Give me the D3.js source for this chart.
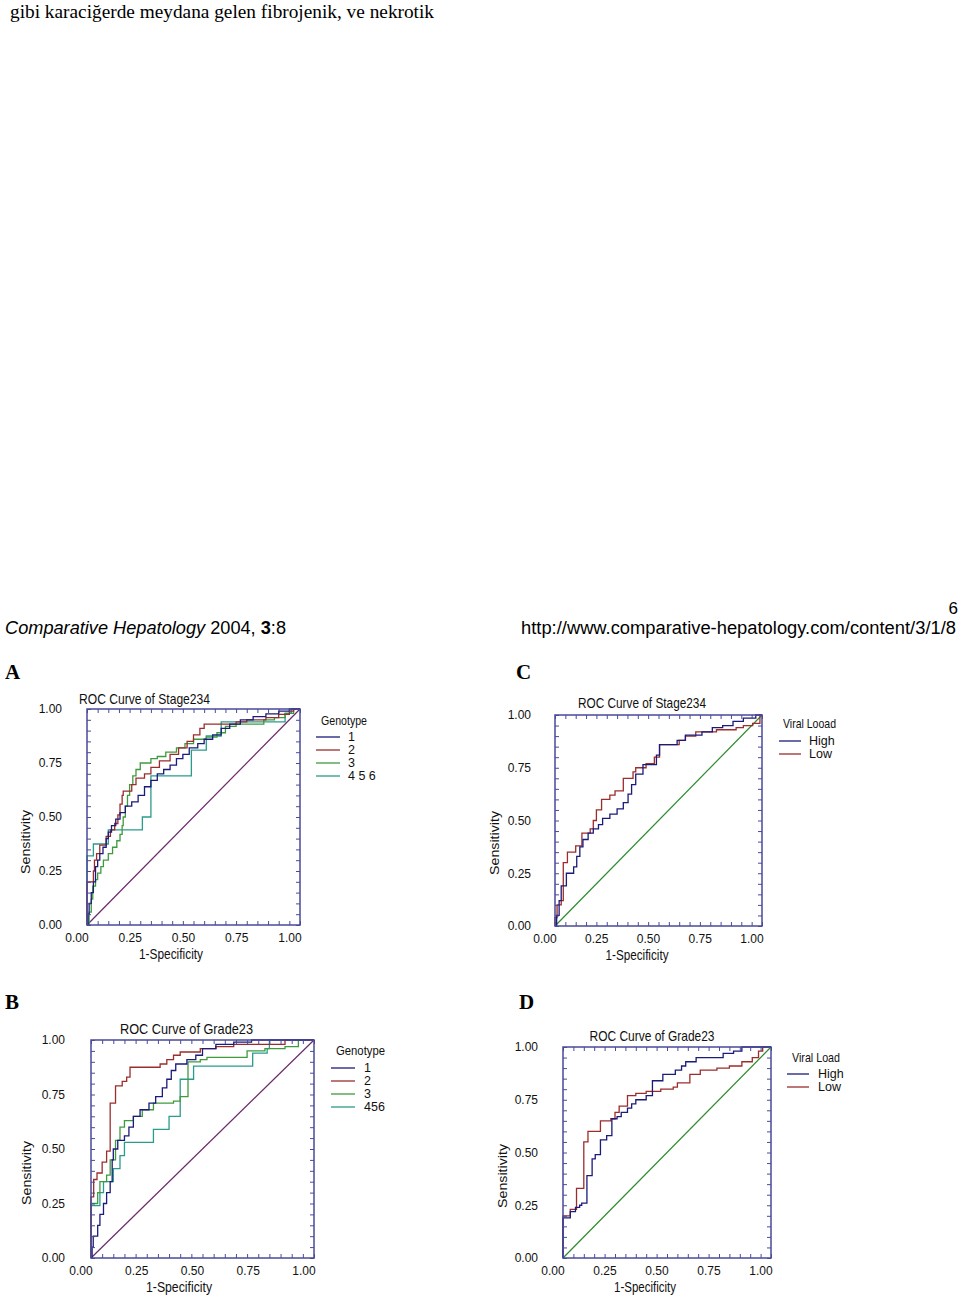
<!DOCTYPE html>
<html><head><meta charset="utf-8">
<script src="https://cdn.jsdelivr.net/npm/d3@7"></script>
<style>body{margin:0;background:#fff}svg{display:block}</style>
</head><body>
<svg id="c" width="960" height="1296"></svg>
<script>
// ---------- data ----------
const majorTicks = [0, 0.25, 0.5, 0.75, 1];
const minorTicks = [0,0.05,0.1,0.15,0.2,0.25,0.3,0.35,0.4,0.45,0.5,0.55,0.6,0.65,0.7,0.75,0.8,0.85,0.9,0.95,1];
const chanceLine = [[0,0],[1,1]];
const genotypeLabelsStage = ["1","2","3","4 5 6"];
const genotypeLabelsGrade = ["1","2","3","456"];
const viralLabels = ["High","Low"];

// Panel A: ROC Curve of Stage234 by genotype  [1-specificity, sensitivity]
const stageGenotype1 = [[0,0],[0.005,0.05],[0.01,0.1],[0.02,0.15],[0.03,0.2],[0.04,0.27],[0.05,0.3],[0.06,0.33],[0.075,0.36],[0.09,0.4],[0.1,0.43],[0.115,0.46],[0.135,0.49],[0.155,0.52],[0.18,0.55],[0.21,0.57],[0.24,0.6],[0.27,0.64],[0.3,0.67],[0.33,0.7],[0.36,0.72],[0.39,0.74],[0.42,0.77],[0.45,0.79],[0.48,0.82],[0.52,0.84],[0.55,0.86],[0.59,0.88],[0.63,0.91],[0.67,0.93],[0.72,0.95],[0.78,0.965],[0.84,0.977],[0.9,0.99],[0.95,1],[1,1]];
const stageGenotype2 = [[0,0],[0,0.2],[0.03,0.25],[0.035,0.3],[0.045,0.33],[0.06,0.37],[0.09,0.41],[0.11,0.44],[0.13,0.47],[0.145,0.51],[0.155,0.56],[0.165,0.6],[0.17,0.62],[0.21,0.65],[0.23,0.68],[0.27,0.7],[0.3,0.73],[0.34,0.76],[0.39,0.79],[0.43,0.82],[0.47,0.85],[0.5,0.88],[0.53,0.91],[0.55,0.93],[0.7,0.94],[0.75,0.95],[0.84,0.96],[0.9,0.975],[0.95,0.99],[0.97,1],[1,1]];
const stageGenotype3 = [[0,0],[0.01,0.06],[0.02,0.12],[0.027,0.18],[0.04,0.21],[0.05,0.24],[0.065,0.27],[0.077,0.3],[0.1,0.33],[0.12,0.36],[0.14,0.39],[0.155,0.42],[0.165,0.46],[0.17,0.5],[0.18,0.55],[0.19,0.6],[0.2,0.65],[0.215,0.69],[0.23,0.72],[0.25,0.75],[0.3,0.77],[0.33,0.78],[0.37,0.8],[0.42,0.82],[0.46,0.84],[0.5,0.86],[0.56,0.87],[0.61,0.89],[0.65,0.92],[0.7,0.93],[0.83,0.95],[0.88,0.96],[0.93,0.98],[0.97,1],[1,1]];
const stageGenotype456 = [[0,0],[0,0.32],[0.03,0.375],[0.1,0.44],[0.26,0.5],[0.3,0.69],[0.49,0.81],[0.56,0.875],[0.63,0.94],[0.93,0.98],[0.96,1],[1,1]];

// Panel C: ROC Curve of Stage234 by viral load
const stageHigh = [[0,0],[0.008,0.05],[0.02,0.12],[0.03,0.19],[0.055,0.25],[0.09,0.28],[0.105,0.33],[0.12,0.375],[0.135,0.41],[0.16,0.44],[0.185,0.46],[0.21,0.48],[0.23,0.51],[0.265,0.53],[0.3,0.555],[0.33,0.585],[0.353,0.625],[0.37,0.67],[0.39,0.72],[0.425,0.765],[0.49,0.81],[0.505,0.86],[0.59,0.88],[0.63,0.905],[0.71,0.92],[0.76,0.94],[0.81,0.95],[0.86,0.97],[0.91,0.985],[0.97,1],[1,1]];
const stageLow = [[0,0],[0,0.04],[0.01,0.1],[0.03,0.12],[0.04,0.3],[0.06,0.35],[0.1,0.38],[0.13,0.44],[0.17,0.46],[0.185,0.5],[0.2,0.55],[0.225,0.6],[0.265,0.62],[0.29,0.64],[0.33,0.7],[0.377,0.73],[0.39,0.75],[0.44,0.77],[0.48,0.8],[0.505,0.86],[0.6,0.88],[0.63,0.9],[0.68,0.92],[0.78,0.93],[0.875,0.94],[0.91,0.95],[0.955,0.96],[0.99,1],[1,1]];

// Panel B: ROC Curve of Grade23 by genotype
const gradeGenotype1 = [[0,0],[0.005,0.05],[0.01,0.1],[0.03,0.15],[0.04,0.2],[0.056,0.25],[0.07,0.3],[0.086,0.35],[0.095,0.45],[0.1,0.5],[0.12,0.54],[0.15,0.56],[0.17,0.6],[0.19,0.65],[0.22,0.68],[0.26,0.71],[0.29,0.74],[0.32,0.78],[0.34,0.82],[0.36,0.86],[0.38,0.89],[0.43,0.91],[0.47,0.93],[0.5,0.96],[0.56,0.98],[0.64,0.99],[0.72,1],[1,1]];
const gradeGenotype2 = [[0,0],[0,0.28],[0.012,0.36],[0.027,0.39],[0.05,0.44],[0.07,0.49],[0.086,0.71],[0.11,0.79],[0.14,0.81],[0.16,0.83],[0.175,0.875],[0.31,0.89],[0.34,0.91],[0.37,0.93],[0.4,0.945],[0.49,0.96],[0.56,0.97],[0.64,0.98],[0.87,1],[1,1]];
const gradeGenotype3 = [[0,0],[0,0.25],[0.03,0.3],[0.04,0.35],[0.07,0.38],[0.086,0.45],[0.11,0.54],[0.13,0.6],[0.15,0.63],[0.19,0.65],[0.23,0.68],[0.28,0.71],[0.37,0.72],[0.4,0.74],[0.435,0.9],[0.49,0.91],[0.52,0.92],[0.7,0.95],[0.78,0.96],[0.87,0.97],[0.93,1],[1,1]];
const gradeGenotype456 = [[0,0],[0,0.24],[0.04,0.3],[0.056,0.35],[0.1,0.41],[0.13,0.47],[0.15,0.53],[0.28,0.59],[0.35,0.65],[0.4,0.82],[0.46,0.88],[0.725,0.94],[0.79,0.96],[0.8,1],[1,1]];

// Panel D: ROC Curve of Grade23 by viral load
const gradeHigh = [[0,0],[0,0.19],[0.035,0.22],[0.06,0.24],[0.08,0.25],[0.09,0.26],[0.115,0.39],[0.14,0.47],[0.155,0.49],[0.18,0.56],[0.21,0.58],[0.235,0.66],[0.26,0.67],[0.28,0.69],[0.31,0.71],[0.33,0.73],[0.35,0.75],[0.4,0.77],[0.43,0.84],[0.48,0.87],[0.54,0.89],[0.57,0.91],[0.59,0.93],[0.64,0.95],[0.77,0.97],[0.82,0.98],[0.86,1],[1,1]];
const gradeLow = [[0,0],[0,0.2],[0.035,0.23],[0.065,0.33],[0.1,0.55],[0.12,0.6],[0.18,0.65],[0.23,0.66],[0.25,0.69],[0.27,0.72],[0.31,0.77],[0.35,0.78],[0.4,0.79],[0.47,0.8],[0.53,0.81],[0.55,0.83],[0.61,0.87],[0.66,0.89],[0.74,0.9],[0.8,0.91],[0.86,0.93],[0.91,0.95],[0.94,0.98],[0.96,1],[1,1]];

// ---------- styles ----------
const NAVY = "#1b1b7a", RED = "#9b2d2d", GREEN = "#3f9a3f", TEAL = "#2b9b8b";
const DIAG_PURPLE = "#6b2a6b", DIAG_GREEN = "#2e8b2e", FRAME = "#4a4a9a";
const SANS = "'Liberation Sans', Arial, sans-serif";
const SERIF = "'Liberation Serif', 'Times New Roman', serif";

const svg = d3.select("#c");
svg.append("rect").attr("width",960).attr("height",1296).attr("fill","#fff");

// ---------- page text ----------
svg.append("text").attr("x",10).attr("y",18).attr("font-family",SERIF).attr("font-size",19)
  .attr("textLength",424).attr("lengthAdjust","spacingAndGlyphs")
  .text("gibi karaciğerde meydana gelen fibrojenik, ve nekrotik");
svg.append("text").attr("x",958).attr("y",614).attr("text-anchor","end").attr("font-family",SANS).attr("font-size",17).text("6");
const hdr = svg.append("text").attr("x",5).attr("y",634).attr("font-family",SANS).attr("font-size",18)
  .attr("textLength",281).attr("lengthAdjust","spacingAndGlyphs");
hdr.append("tspan").attr("font-style","italic").text("Comparative Hepatology");
hdr.append("tspan").text(" 2004, ");
hdr.append("tspan").attr("font-weight","bold").text("3");
hdr.append("tspan").text(":8");
svg.append("text").attr("x",956).attr("y",634).attr("text-anchor","end").attr("font-family",SANS).attr("font-size",18)
  .attr("textLength",435).attr("lengthAdjust","spacingAndGlyphs")
  .text("http://www.comparative-hepatology.com/content/3/1/8");

// ---------- panels ----------
const panels = [
  {letter:"A", lx:5, ly:672, left:87, right:300, top:709, bottom:925,
   title:"ROC Curve of Stage234", tx:144.5, ty:698, tw:131,
   sx:25, sy:842, spx:171, spy:954, spw:64, yLabRight:62, xRowY:937,
   legTitle:"Genotype", legTx:321, legTy:720, legTw:46, legL1:316, legL2:340, legLabX:348, legRow0:737,
   diag:DIAG_PURPLE,
   series:[{d:stageGenotype456,c:TEAL},{d:stageGenotype3,c:GREEN},{d:stageGenotype2,c:RED},{d:stageGenotype1,c:NAVY}],
   legend:genotypeLabelsStage, legColors:[NAVY,RED,GREEN,TEAL]},
  {letter:"C", lx:516, ly:672, left:555, right:762, top:715, bottom:926,
   title:"ROC Curve of Stage234", tx:642, ty:702, tw:128,
   sx:494, sy:843, spx:637, spy:955, spw:63, yLabRight:531, xRowY:938,
   legTitle:"Viral Looad", legTx:783, legTy:723, legTw:53, legL1:779, legL2:801, legLabX:809, legRow0:741,
   diag:DIAG_GREEN,
   series:[{d:stageLow,c:RED},{d:stageHigh,c:NAVY}],
   legend:viralLabels, legColors:[NAVY,RED]},
  {letter:"B", lx:5, ly:1002, left:91, right:314, top:1040, bottom:1258,
   title:"ROC Curve of Grade23", tx:186.5, ty:1028, tw:133,
   sx:26, sy:1173, spx:179, spy:1287, spw:66, yLabRight:65, xRowY:1270,
   legTitle:"Genotype", legTx:336, legTy:1050, legTw:49, legL1:331, legL2:355, legLabX:364, legRow0:1068,
   diag:DIAG_PURPLE,
   series:[{d:gradeGenotype456,c:TEAL},{d:gradeGenotype3,c:GREEN},{d:gradeGenotype2,c:RED},{d:gradeGenotype1,c:NAVY}],
   legend:genotypeLabelsGrade, legColors:[NAVY,RED,GREEN,TEAL]},
  {letter:"D", lx:519, ly:1002, left:563, right:771, top:1047, bottom:1258,
   title:"ROC Curve of Grade23", tx:652, ty:1035, tw:125,
   sx:502, sy:1176, spx:645, spy:1287, spw:62, yLabRight:538, xRowY:1270,
   legTitle:"Viral Load", legTx:792, legTy:1057, legTw:48, legL1:787, legL2:809, legLabX:818, legRow0:1074,
   diag:DIAG_GREEN,
   series:[{d:gradeLow,c:RED},{d:gradeHigh,c:NAVY}],
   legend:viralLabels, legColors:[NAVY,RED]}
];

panels.forEach(p => {
  const x = d3.scaleLinear().domain([0,1]).range([p.left,p.right]);
  const y = d3.scaleLinear().domain([0,1]).range([p.bottom,p.top]);
  const g = svg.append("g");

  g.append("text").attr("x",p.lx).attr("y",p.ly).attr("dominant-baseline","central")
    .attr("font-family",SERIF).attr("font-weight","bold").attr("font-size",21).text(p.letter);

  // curves
  const line = d3.line().x(d=>x(d[0])).y(d=>y(d[1]));
  const step = d3.line().x(d=>x(d[0])).y(d=>y(d[1])).curve(d3.curveStepAfter);
  g.append("path").attr("d",line(chanceLine)).attr("fill","none").attr("stroke",p.diag).attr("stroke-width",1.2);
  p.series.forEach(s => {
    g.append("path").attr("d",step(s.d)).attr("fill","none").attr("stroke",s.c).attr("stroke-width",1.3);
  });

  // minor inward ticks on all four sides
  const tickLen = 4;
  [[d3.axisLeft(y),p.left,0],[d3.axisRight(y),p.right,0],[d3.axisBottom(x),0,p.bottom],[d3.axisTop(x),0,p.top]]
    .forEach(([ax,tx,ty]) => {
      const a = g.append("g").attr("transform",`translate(${tx},${ty})`)
        .call(ax.tickValues(minorTicks).tickSize(-tickLen).tickFormat(""));
      a.select(".domain").remove();
      a.selectAll("line").attr("stroke",FRAME).attr("stroke-width",1);
    });

  // frame
  g.append("rect").attr("x",p.left).attr("y",p.top).attr("width",p.right-p.left).attr("height",p.bottom-p.top)
    .attr("fill","none").attr("stroke",FRAME).attr("stroke-width",1.5);

  // y tick labels
  const ya = g.append("g").attr("transform",`translate(${p.yLabRight},0)`)
    .call(d3.axisLeft(y).tickValues(majorTicks).tickFormat(d3.format(".2f")).tickSize(0).tickPadding(0));
  ya.select(".domain").remove();
  ya.selectAll("text").attr("font-family",SANS).attr("font-size",12).attr("fill","#111");

  // x tick labels (offset to the left, as in the original)
  const xa = g.append("g").attr("transform",`translate(-10.5,${p.xRowY - 4})`)
    .call(d3.axisBottom(x).tickValues(majorTicks).tickFormat(d3.format(".2f")).tickSize(0).tickPadding(0));
  xa.select(".domain").remove();
  xa.selectAll("text").attr("font-family",SANS).attr("font-size",12).attr("fill","#111");

  // titles
  g.append("text").attr("x",p.tx).attr("y",p.ty).attr("text-anchor","middle").attr("dominant-baseline","central")
    .attr("font-family",SANS).attr("font-size",15).attr("textLength",p.tw).attr("lengthAdjust","spacingAndGlyphs")
    .attr("fill","#111").text(p.title);
  g.append("text").attr("x",p.spx).attr("y",p.spy).attr("text-anchor","middle").attr("dominant-baseline","central")
    .attr("font-family",SANS).attr("font-size",14).attr("textLength",p.spw).attr("lengthAdjust","spacingAndGlyphs")
    .attr("fill","#111").text("1-Specificity");
  g.append("text").attr("transform",`translate(${p.sx},${p.sy}) rotate(-90)`).attr("text-anchor","middle")
    .attr("dominant-baseline","central").attr("font-family",SANS).attr("font-size",13)
    .attr("textLength",64).attr("lengthAdjust","spacingAndGlyphs").attr("fill","#111").text("Sensitivity");

  // legend
  g.append("text").attr("x",p.legTx).attr("y",p.legTy).attr("dominant-baseline","central")
    .attr("font-family",SANS).attr("font-size",13).attr("textLength",p.legTw).attr("lengthAdjust","spacingAndGlyphs")
    .attr("fill","#111").text(p.legTitle);
  p.legend.forEach((lab,i) => {
    const ry = p.legRow0 + i*13;
    g.append("line").attr("x1",p.legL1).attr("x2",p.legL2).attr("y1",ry).attr("y2",ry)
      .attr("stroke",p.legColors[i]).attr("stroke-width",1.3);
    g.append("text").attr("x",p.legLabX).attr("y",ry).attr("dominant-baseline","central")
      .attr("font-family",SANS).attr("font-size",12.5).attr("fill","#111").text(lab);
  });
});
</script>
</body></html>
